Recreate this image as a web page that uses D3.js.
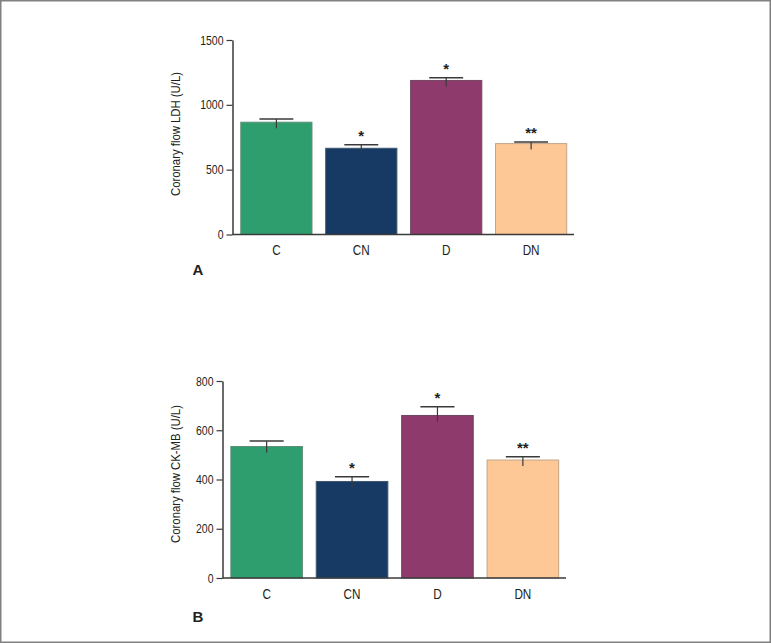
<!DOCTYPE html>
<html><head><meta charset="utf-8">
<script src="https://cdn.jsdelivr.net/npm/d3@7"></script>
<style>
html,body{margin:0;padding:0;background:#fff;}
svg{display:block;}
text{font-family:"Liberation Sans",Arial,sans-serif;fill:#231f20;}
</style></head>
<body>
<svg id="chart" width="771" height="643"></svg>
<script>
const categories = ["C","CN","D","DN"];
const colors = ["#2e9e6e","#163a63","#8e3a6c","#fdc896"];
const strokes = ["#5f8f78","#3d5670","#6e4660","#c3a384"];

const ldhMean = [866, 665, 1188, 701];
const ldhErr  = [891, 693, 1208, 714];
const ldhSig  = ["", "*", "*", "**"];
const ldhTicks = [0, 500, 1000, 1500];

const ckMean = [534, 392, 660, 479];
const ckErr  = [556, 411, 695, 492];
const ckSig  = ["", "*", "*", "**"];
const ckTicks = [0, 200, 400, 600, 800];

const NARROW = 0.84;
const svg = d3.select("#chart");

// frame
svg.append("rect").attr("x",0.75).attr("y",0.75).attr("width",769.5).attr("height",641.5)
  .attr("fill","none").attr("stroke","#808080").attr("stroke-width",1.5);

// condense text horizontally around its anchor x
function condense(sel){
  sel.each(function(){
    const t = d3.select(this);
    const ax = +t.attr("x") || 0;
    t.attr("transform", `translate(${ax},0) scale(${NARROW},1) translate(${-ax},0)`);
  });
}

function panel(cfg){
  const g = svg.append("g");
  const y = d3.scaleLinear().domain([0, cfg.max]).range([cfg.y0, cfg.y1]);
  const x = d3.scaleBand().domain(categories).range([cfg.x0+1, cfg.x1]).paddingInner(0.15).paddingOuter(0.08);

  // bars
  g.selectAll("rect.bar").data(categories).enter().append("rect")
    .attr("x", d => x(d)+0.5)
    .attr("y", (d,i) => y(cfg.mean[i]))
    .attr("width", x.bandwidth()-1)
    .attr("height", (d,i) => y(0) - y(cfg.mean[i]))
    .attr("fill", (d,i) => colors[i])
    .attr("stroke", (d,i) => strokes[i]).attr("stroke-width",1);

  // error bars
  const capW = x.bandwidth()*0.47;
  categories.forEach((d,i) => {
    const cx = x(d) + x.bandwidth()/2;
    g.append("line").attr("x1",cx).attr("x2",cx)
      .attr("y1", y(cfg.mean[i]) + 6).attr("y2", y(cfg.err[i]))
      .attr("stroke","#3a3a3a").attr("stroke-width",1.2);
    g.append("line").attr("x1",cx-capW/2).attr("x2",cx+capW/2)
      .attr("y1", y(cfg.err[i])).attr("y2", y(cfg.err[i]))
      .attr("stroke","#3a3a3a").attr("stroke-width",1.5);
    if (cfg.sig[i]) {
      g.append("text").attr("x",cx).attr("y", y(cfg.err[i]) - 4)
        .attr("text-anchor","middle").attr("font-size",15).attr("font-weight","bold")
        .attr("fill","#2a2a2a")
        .text(cfg.sig[i]);
    }
  });

  // y axis
  const ya = g.append("g").attr("transform",`translate(${cfg.x0},0)`)
    .call(d3.axisLeft(y).tickValues(cfg.ticks).tickFormat(d3.format("d")).tickSize(6).tickSizeOuter(0).tickPadding(3));
  ya.select(".domain").attr("stroke","#3a3a3a").attr("stroke-width",1.5);
  ya.selectAll(".tick line").attr("stroke","#3a3a3a").attr("stroke-width",1.2);
  ya.selectAll(".tick text").attr("font-size",12.5).attr("fill","#231f20").call(condense);

  // x axis
  const xa = g.append("g").attr("transform",`translate(0,${cfg.y0})`)
    .call(d3.axisBottom(x).tickSize(0).tickPadding(11));
  xa.select(".domain").attr("d", `M${cfg.x0},0H${cfg.x1}`).attr("stroke","#3a3a3a").attr("stroke-width",1.5);
  xa.selectAll(".tick text").attr("font-size",14).attr("fill","#231f20").call(condense);

  // y label
  g.append("text").attr("transform",`translate(${cfg.labX},${cfg.labY}) rotate(-90) scale(${NARROW},1)`)
    .attr("text-anchor","middle").attr("font-size",13.5).attr("dy","0.35em").text(cfg.label);

  // panel letter
  g.append("text").attr("x",cfg.letX).attr("y",cfg.letY).attr("font-size",15).attr("font-weight","bold")
    .text(cfg.letter);
}

panel({x0:232.5, x1:574, y0:234.5, y1:40, max:1500, mean:ldhMean, err:ldhErr, sig:ldhSig, ticks:ldhTicks,
  label:"Coronary flow LDH (U/L)", labX:175, labY:134, letter:"A", letX:192.5, letY:275});
panel({x0:222.5, x1:566, y0:578, y1:381, max:800, mean:ckMean, err:ckErr, sig:ckSig, ticks:ckTicks,
  label:"Coronary flow CK-MB (U/L)", labX:175, labY:474, letter:"B", letX:192.5, letY:622});
</script>
</body></html>
